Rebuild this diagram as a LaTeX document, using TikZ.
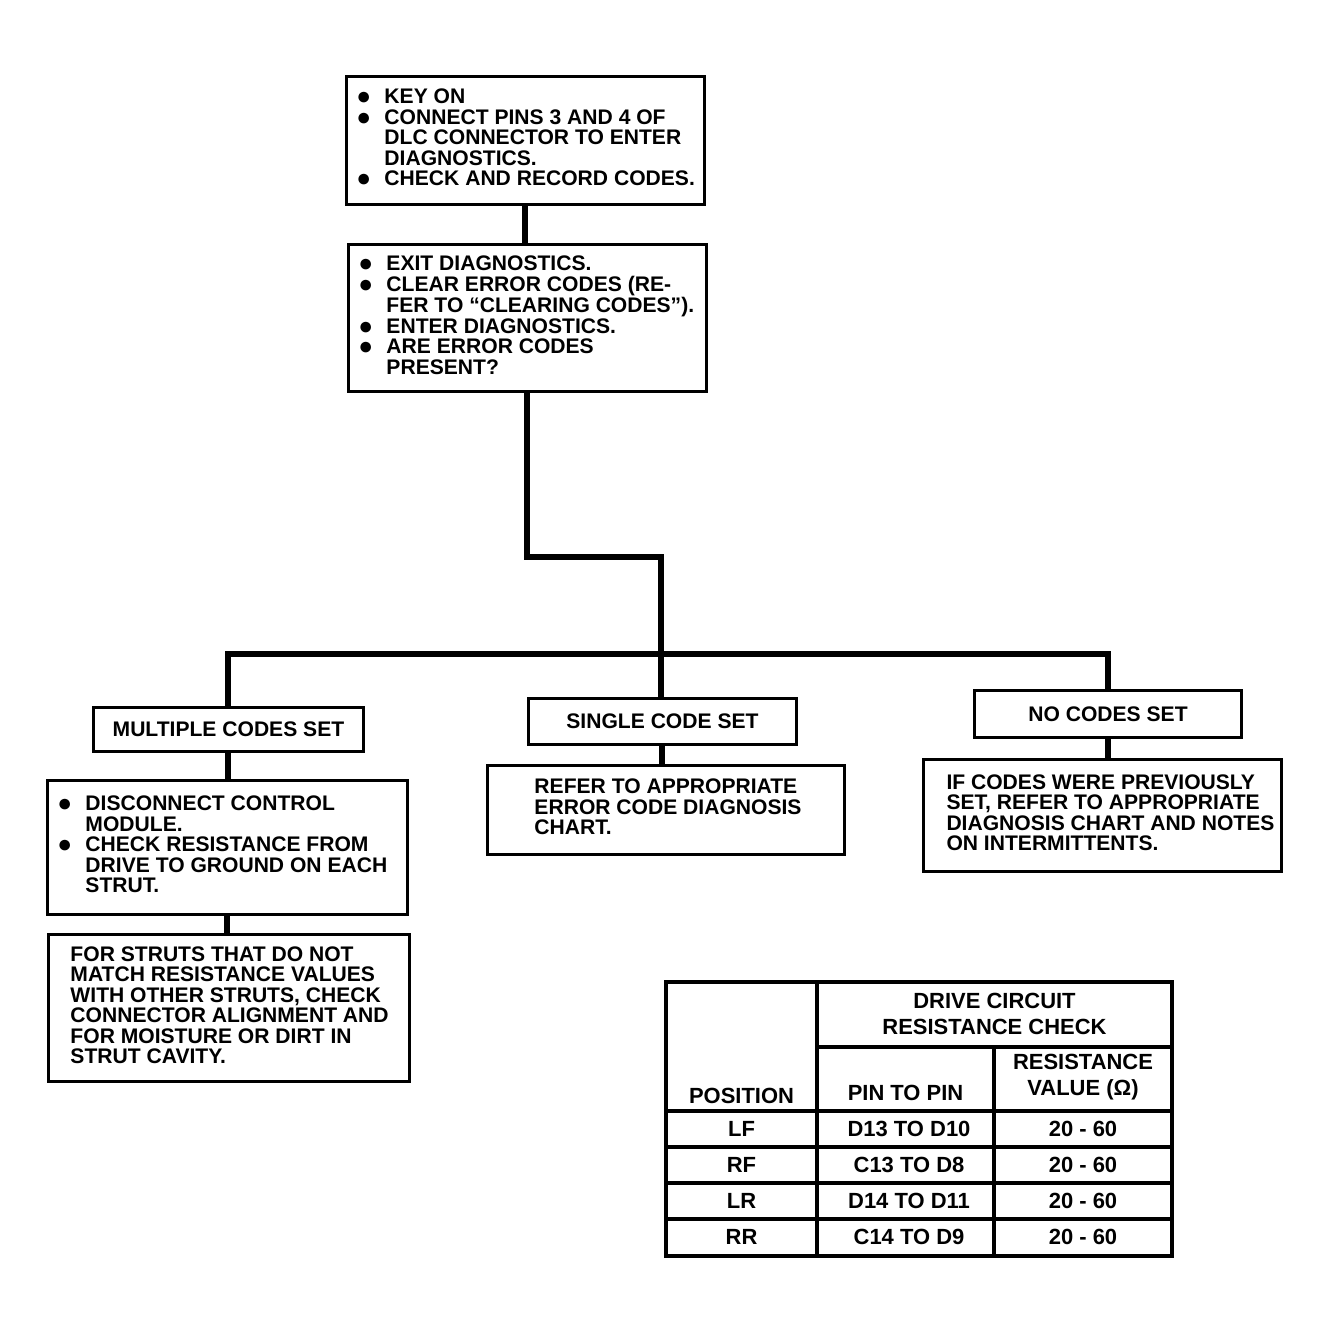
\documentclass[tikz,border=0pt]{standalone}
\usepackage{fontspec}
\setmainfont{Liberation Sans}
\usepackage{tikz}

% bullet column and left-set box body
\newcommand{\bul}{\makebox[0.56cm][l]{\fontsize{14}{0}\selectfont\raisebox{-0.5pt}{●}}}
\newcommand{\inbox}[3]{\makebox[#1][l]{\hspace*{#2}\begin{tabular}[c]{@{}l@{}l@{}}#3\end{tabular}}}

\begin{document}
\begin{tikzpicture}[x=0.02cm, y=-0.02cm,
  font=\bfseries\fontsize{12}{11}\selectfont,
  flowbox/.style={draw, line width=1.7pt, anchor=north west, inner sep=0pt},
  wire/.style={line width=3.4pt},
  grid/.style={line width=1.8pt},
  cell/.style={inner sep=0pt, align=center, font=\bfseries\fontsize{12.5}{14.7}\selectfont}]

\useasboundingbox (0,0) rectangle (1344,1344);

% -- Diagnostic steps -------------------------------------------------------
\node[flowbox, minimum height=2.56cm] (keyon) at (345,75) {\inbox{7.16cm}{0.2cm}{%
  \bul & KEY ON\\
  \bul & CONNECT PINS 3 AND 4 OF\\
       & DLC CONNECTOR TO ENTER\\
       & DIAGNOSTICS.\\
  \bul & CHECK AND RECORD CODES.}};

\node[flowbox, minimum height=2.94cm] (exitdiag) at (347,243) {\inbox{7.16cm}{0.2cm}{%
  \bul & EXIT DIAGNOSTICS.\\
  \bul & CLEAR ERROR CODES (RE-\\
       & FER TO “CLEARING CODES”).\\
  \bul & ENTER DIAGNOSTICS.\\
  \bul & ARE ERROR CODES\\
       & PRESENT?}};

% -- Branches ---------------------------------------------------------------
\node[flowbox, minimum width=5.4cm, minimum height=0.88cm] (multi) at (92,706) {MULTIPLE CODES SET};
\node[flowbox, minimum width=5.36cm, minimum height=0.92cm] (single) at (527,697) {SINGLE CODE SET};
\node[flowbox, minimum width=5.34cm, minimum height=0.94cm] (nocodes) at (973,689) {NO CODES SET};

\node[flowbox, minimum height=2.68cm] (disc) at (46,779) {\inbox{7.2cm}{0.2cm}{%
  \bul & DISCONNECT CONTROL\\
       & MODULE.\\
  \bul & CHECK RESISTANCE FROM\\
       & DRIVE TO GROUND ON EACH\\
       & STRUT.}};

\node[flowbox, minimum height=2.94cm] (struts) at (47,933) {\inbox{7.22cm}{0.44cm}{%
  FOR STRUTS THAT DO NOT\\
  MATCH RESISTANCE VALUES\\
  WITH OTHER STRUTS, CHECK\\
  CONNECTOR ALIGNMENT AND\\
  FOR MOISTURE OR DIRT IN\\
  STRUT CAVITY.}};

\node[flowbox, minimum height=1.78cm] (refer) at (486,764) {\inbox{7.14cm}{0.94cm}{%
  REFER TO APPROPRIATE\\
  ERROR CODE DIAGNOSIS\\
  CHART.}};

\node[flowbox, minimum height=2.24cm] (ifcodes) at (922,758) {\inbox{7.16cm}{0.46cm}{%
  IF CODES WERE PREVIOUSLY\\
  SET, REFER TO APPROPRIATE\\
  DIAGNOSIS CHART AND NOTES\\
  ON INTERMITTENTS.}};

% -- Connectors -------------------------------------------------------------
\coordinate (elbow) at (661,557);
\coordinate (bar) at (0,654);
\draw[wire] (keyon.south) -- (keyon.south |- exitdiag.north);
\draw[wire] (exitdiag.south) |- (elbow) -- (elbow |- single.north);
\draw[wire] (multi.north) |- (bar -| nocodes.north) -- (nocodes.north);
\draw[wire] (multi.south) -- (multi.south |- disc.north);
\draw[wire] (disc.south) -- (disc.south |- struts.north);
\draw[wire] (single.south) -- (single.south |- refer.north);
\draw[wire] (nocodes.south) -- (nocodes.south |- ifcodes.north);

% -- Resistance table -------------------------------------------------------
\draw[grid] (666,982) rectangle (1172,1256);
\draw[grid] (817,982) -- (817,1256);
\draw[grid] (817,1047) -- (1172,1047);
\draw[grid] (994,1047) -- (994,1256);
\foreach \y in {1111,1147,1183,1219}
  \draw[grid] (666,\y) -- (1172,\y);

\node[cell] (title) at (994.5,1014) {DRIVE CIRCUIT\\RESISTANCE CHECK};
\node[cell] (position) at (741.5,1096) {POSITION};
\node[cell] (pinpin) at (905.5,1093) {PIN TO PIN};
\node[cell] (resval) at (1083,1077) {RESISTANCE\\VALUE (Ω)};
\foreach \pos/\pins [count=\i] in {LF/D13 TO D10, RF/C13 TO D8, LR/D14 TO D11, RR/C14 TO D9} {
  \node[cell] (pos\i) at (741.5,1093+36*\i) {\pos};
  \node[cell] (pin\i) at (909,1093+36*\i) {\pins};
  \node[cell] (res\i) at (1083,1093+36*\i) {20 - 60};
}

\end{tikzpicture}
\end{document}
